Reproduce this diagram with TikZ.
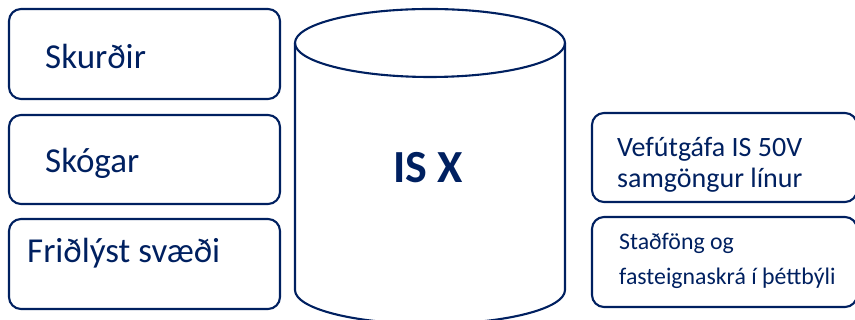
\documentclass[tikz,border=0pt]{standalone}
\usepackage{fontspec}
\setmainfont{Carlito}
\definecolor{navy}{RGB}{0,32,96}
\begin{document}
\begin{tikzpicture}[x=1pt,y=1pt,
  box/.style={draw=navy, line width=2.1pt, rounded corners=12pt, inner sep=0pt, minimum width=271pt, minimum height=90pt},
  rbox/.style={box, minimum width=265pt, minimum height=89pt},
  cyl/.style={draw=navy, line width=2.1pt},
  big/.style={text=navy, inner sep=0pt, anchor=base west, font=\fontsize{35}{42}\selectfont},
  mid/.style={text=navy, inner sep=0pt, anchor=base west, align=left, font=\fontsize{28}{31}\selectfont},
  small/.style={text=navy, inner sep=0pt, anchor=base west, align=left, font=\fontsize{23.8}{35}\selectfont}]
\useasboundingbox (0,0) rectangle (855,320);
\clip (0,0) rectangle (855,320);
% left boxes
\node[box] (b1) at (144.5,266) {};
\node[box, minimum height=89pt] (b2) at (144.5,160.5) {};
\node[box] (b3) at (144.5,56) {};
\node[big] (t1) at (45,251) {Skurðir};
\node[big] (t2) at (45,147) {Skógar};
\node[big] (t3) at (27,57) {Friðlýst svæði};
% cylinder
\draw[cyl] (430,277) ellipse[x radius=135, y radius=34];
\draw[cyl] (295,277) -- (295,30) arc[start angle=180, end angle=360, x radius=135, y radius=34] -- (565,277);
\node[text=navy, inner sep=0pt, anchor=base, font=\bfseries\fontsize{46}{50}\selectfont] (isx) at (428,137) {IS X};
% right boxes
\node[rbox] (b4) at (724.5,162.5) {};
\node[rbox, minimum height=90pt] (b5) at (724.5,58) {};
\node[mid] (t4) at (617,132) {Vefútgáfa IS 50V\\samgöngur línur};
\node[small] (t5) at (619,35) {Staðföng og\\fasteignaskrá í þéttbýli};
\end{tikzpicture}
\end{document}
